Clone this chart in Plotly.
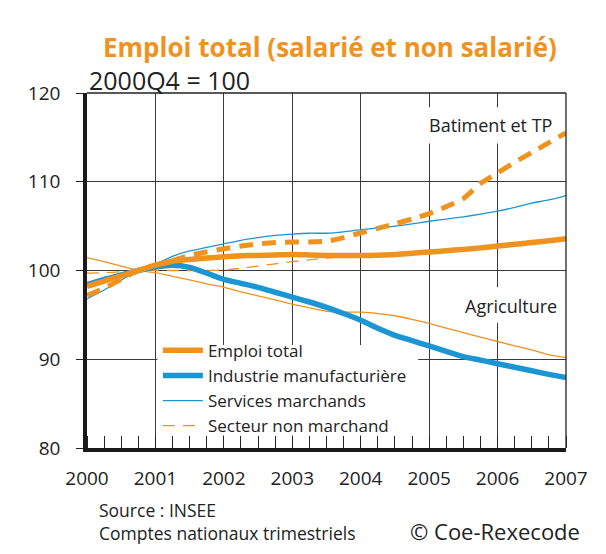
import plotly.graph_objects as go

# ---- data (quarterly, 2000Q4 = 100) ----
quarters = [2000.0, 2000.25, 2000.5, 2000.75, 2001.0, 2001.25, 2001.5, 2001.75,
            2002.0, 2002.25, 2002.5, 2002.75, 2003.0, 2003.25, 2003.5, 2003.75,
            2004.0, 2004.25, 2004.5, 2004.75, 2005.0, 2005.25, 2005.5, 2005.75,
            2006.0, 2006.25, 2006.5, 2006.75, 2007.0]

emploi_total = [98.2, 98.8, 99.4, 100.0, 100.6, 101.05, 101.25, 101.4,
                101.55, 101.65, 101.7, 101.75, 101.8, 101.75, 101.7, 101.68,
                101.68, 101.72, 101.8, 101.95, 102.08, 102.22, 102.38, 102.55,
                102.75, 102.95, 103.15, 103.35, 103.57]

industrie = [98.4, 99.0, 99.5, 100.0, 100.4, 100.6, 100.35, 99.7,
             99.0, 98.55, 98.1, 97.55, 97.0, 96.45, 95.85, 95.15,
             94.4, 93.5, 92.7, 92.1, 91.5, 90.9, 90.3, 89.9,
             89.5, 89.1, 88.7, 88.3, 87.95]

services = [96.8, 97.8, 98.9, 100.0, 100.7, 101.6, 102.2, 102.6,
            103.0, 103.4, 103.7, 103.95, 104.1, 104.2, 104.2, 104.35,
            104.6, 104.8, 105.0, 105.25, 105.55, 105.8, 106.05, 106.35,
            106.7, 107.1, 107.6, 107.95, 108.45]

non_marchand = [99.7, 99.75, 99.85, 100.0, 100.0, 100.0, 100.0, 100.0,
                100.05, 100.25, 100.5, 100.75, 101.0, 101.2, 101.4, 101.55,
                101.62, 101.7, 101.8, 101.92, 102.05, 102.25, 102.45, 102.65,
                102.85, 103.05, 103.2, 103.35, 103.5]

batiment = [97.2, 98.0, 99.0, 100.0, 100.6, 101.1, 101.7, 102.1,
            102.45, 102.75, 103.0, 103.15, 103.2, 103.2, 103.3, 103.7,
            104.25, 104.75, 105.25, 105.8, 106.4, 107.2, 108.1, 109.8,
            111.0, 112.2, 113.3, 114.4, 115.5]

agriculture = [101.45, 101.0, 100.5, 100.0, 99.75, 99.35, 98.95, 98.5,
               98.1, 97.6, 97.15, 96.7, 96.2, 95.8, 95.4, 95.3,
               95.3, 95.15, 94.9, 94.5, 94.05, 93.5, 93.0, 92.5,
               92.0, 91.5, 91.05, 90.5, 90.2]

year_ticks = [2000, 2001, 2002, 2003, 2004, 2005, 2006, 2007]
year_labels = [str(y) for y in year_ticks]

ORANGE = "#F0921E"
BLUE = "#1B95D3"
FONT = "Open Sans"
TXT = "#222"

fig = go.Figure()

def add(y, name, color, width, dash="solid", show=True, rank=1):
    fig.add_trace(go.Scatter(
        x=quarters, y=y, name=name, mode="lines",
        line=dict(color=color, width=width, dash=dash, shape="spline", smoothing=0.6),
        showlegend=show, legendrank=rank, hoverinfo="skip"))

add(agriculture, "Agriculture", ORANGE, 1.3, show=False)
add(non_marchand, "Secteur non marchand", ORANGE, 1.3, dash="12px,8px", rank=4)
add(services, "Services marchands", BLUE, 1.3, rank=3)
add(batiment, "Batiment et TP", ORANGE, 5, dash="14px,9px", show=False)
add(industrie, "Industrie manufacturière", BLUE, 5.5, rank=2)
add(emploi_total, "Emploi total", ORANGE, 5.5, rank=1)

GRID = "#3a3a3a"
fig.update_xaxes(
    range=[2000, 2007], tickvals=year_ticks, ticktext=year_labels,
    showgrid=True, gridcolor=GRID, gridwidth=1.2,
    showline=True, linecolor="#1a1a1a", linewidth=3.5,
    ticks="", zeroline=False, ticklabelstandoff=10,
    tickfont=dict(family=FONT, size=19, color=TXT),
    minor=dict(ticks="inside", ticklen=12, tickcolor=TXT, tickwidth=1,
               dtick=0.25, tick0=2000, showgrid=False),
)
fig.update_yaxes(
    range=[80, 120], dtick=10, tick0=80,
    showgrid=True, gridcolor=GRID, gridwidth=1.2,
    showline=True, linecolor="#1a1a1a", linewidth=3.5,
    ticks="outside", ticklen=7, tickcolor=TXT, zeroline=False,
    ticklabelstandoff=12,
    tickfont=dict(family=FONT, size=19, color=TXT),
)

shapes = [
    # thin top and right frame
    dict(type="line", xref="paper", yref="paper", x0=0, x1=1, y0=1, y1=1,
         line=dict(color=TXT, width=1.3), layer="above"),
    dict(type="line", xref="paper", yref="paper", x0=1, x1=1, y0=0, y1=1,
         line=dict(color=TXT, width=1.3), layer="above"),
    # white boxes behind labels / legend that hide the grid
    dict(type="rect", xref="x", yref="y", x0=2004.93, x1=2006.93, y0=114.3, y1=118.4,
         fillcolor="white", line=dict(width=0), layer="between"),
    dict(type="rect", xref="x", yref="y", x0=2005.5, x1=2006.95, y0=94.1, y1=98.1,
         fillcolor="white", line=dict(width=0), layer="between"),
    dict(type="rect", xref="x", yref="y", x0=2001.03, x1=2004.84, y0=81.4, y1=91.6,
         fillcolor="white", line=dict(width=0), layer="between"),
]

annotations = [
    dict(text="<b>Emploi total (salarié et non salarié)</b>", xref="paper", yref="paper",
         x=0.507, y=1.129, xanchor="center", yanchor="middle", showarrow=False,
         font=dict(family=FONT, size=26, color=ORANGE)),
    dict(text="2000Q4 = 100", xref="paper", yref="paper", x=0.0, y=1.036,
         xanchor="left", yanchor="middle", showarrow=False,
         font=dict(family=FONT, size=25, color=TXT)),
    dict(text="Batiment et TP", xref="x", yref="y", x=2005.89, y=116.36,
         xanchor="center", yanchor="middle", showarrow=False,
         font=dict(family=FONT, size=18, color=TXT)),
    dict(text="Agriculture", xref="x", yref="y", x=2006.19, y=95.97,
         xanchor="center", yanchor="middle", showarrow=False,
         font=dict(family=FONT, size=18, color=TXT)),
    dict(text="Source : INSEE", xref="paper", yref="paper", x=0.02, y=-0.175,
         xanchor="left", yanchor="middle", showarrow=False,
         font=dict(family=FONT, size=17.5, color=TXT)),
    dict(text="Comptes nationaux trimestriels", xref="paper", yref="paper", x=0.02, y=-0.240,
         xanchor="left", yanchor="middle", showarrow=False,
         font=dict(family=FONT, size=17.5, color=TXT)),
    dict(text="© Coe-Rexecode", xref="paper", yref="paper", x=1.033, y=-0.235,
         xanchor="right", yanchor="middle", showarrow=False,
         font=dict(family=FONT, size=22, color=TXT)),
]

# page body has an 8px default margin: figure is 598x546 so it ends at 606x554
fig.update_layout(
    width=598, height=546, autosize=False,
    margin=dict(l=79, r=40, t=85, b=106),
    paper_bgcolor="white", plot_bgcolor="white",
    shapes=shapes, annotations=annotations,
    legend=dict(x=0.148, y=0.3245, xanchor="left", yanchor="top",
                bgcolor="rgba(0,0,0,0)", borderwidth=0, itemwidth=40,
                font=dict(family=FONT, size=17, color=TXT),
                tracegroupgap=0, itemclick=False, itemdoubleclick=False),
    font=dict(family=FONT, color=TXT),
)

fig.write_html("out.html")
